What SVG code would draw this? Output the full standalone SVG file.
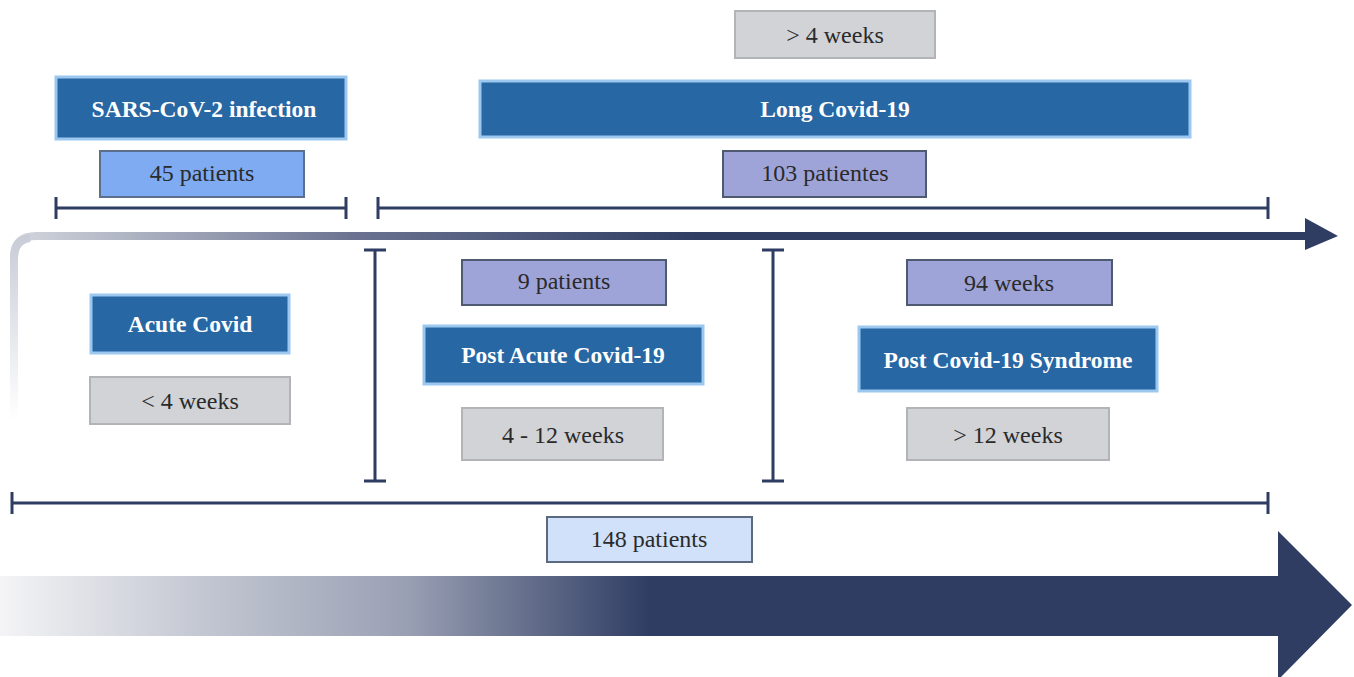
<svg xmlns="http://www.w3.org/2000/svg" width="1354" height="677" viewBox="0 0 1354 677">
<defs>
<linearGradient id="gBig" x1="0" y1="0" x2="1354" y2="0" gradientUnits="userSpaceOnUse">
<stop offset="0" stop-color="#f4f4f6"/>
<stop offset="0.15" stop-color="#c3c7d2"/>
<stop offset="0.3" stop-color="#9aa0b4"/>
<stop offset="0.48" stop-color="#2f3d63"/>
<stop offset="1" stop-color="#2f3d63"/>
</linearGradient>
<linearGradient id="gTop" x1="10" y1="0" x2="700" y2="0" gradientUnits="userSpaceOnUse">
<stop offset="0" stop-color="#d4d7de"/>
<stop offset="0.5" stop-color="#6a7290"/>
<stop offset="1" stop-color="#2f3d63"/>
</linearGradient>
<linearGradient id="gLeft" x1="0" y1="420" x2="0" y2="236" gradientUnits="userSpaceOnUse">
<stop offset="0" stop-color="#ffffff"/>
<stop offset="1" stop-color="#c8ccd6"/>
</linearGradient>
<style>
.dark{fill:#2767a3;stroke:#9cc8f0;stroke-width:3}
.gray{fill:#d1d3d7;stroke:#b3b4b8;stroke-width:2}
.lav{fill:#9fa4d8;stroke:#4d5a70;stroke-width:2}
.lb{fill:#7eabf2;stroke:#5b6f8c;stroke-width:2}
.pale{fill:#d0e1f9;stroke:#5b6a80;stroke-width:2}
.wt{font-family:"Liberation Serif",serif;font-size:23.5px;font-weight:bold;fill:#ffffff;text-anchor:middle;dominant-baseline:central}
.bt{font-family:"Liberation Serif",serif;font-size:24px;fill:#2a2a2a;text-anchor:middle;dominant-baseline:central}
.br{stroke:#2f3d63;stroke-width:3;fill:none}
</style>
</defs>
<rect width="1354" height="677" fill="#ffffff"/>
<g id="connectors">
<path d="M14,420 V258 Q14,236 36,236 H1310" stroke="url(#gTop)" stroke-width="8" fill="none"/>
<path d="M14,420 V258 Q14,240 30,238" stroke="url(#gLeft)" stroke-width="8" fill="none"/>
<polygon points="1305,218 1338,236 1305,250" fill="#2f3d63"/>
<path d="M0,576 H1278 V531 L1352,605 L1278,680 V636 H0 Z" fill="url(#gBig)"/>
<path class="br" d="M56,208 H346 M56,197 V219 M346,197 V219"/>
<path class="br" d="M378,208 H1268 M378,197 V219 M1268,197 V219"/>
<path class="br" d="M375,250 V481 M364,250 H386 M364,481 H386"/>
<path class="br" d="M773,250 V481 M762,250 H784 M762,481 H784"/>
<path class="br" d="M12,503 H1268 M12,492 V514 M1268,492 V514"/>
</g>
<g id="n-weeks4"><rect class="gray" x="735" y="11" width="200" height="47"/><text class="bt" x="835" y="35">&gt; 4 weeks</text></g>
<g id="n-sars"><rect class="dark" x="56" y="77" width="290" height="62"/><text class="wt" x="204" y="109">SARS-CoV-2 infection</text></g>
<g id="n-long"><rect class="dark" x="480" y="81" width="710" height="56"/><text class="wt" x="835" y="109">Long Covid-19</text></g>
<g id="n-45"><rect class="lb" x="100" y="151" width="204" height="46"/><text class="bt" x="202" y="173">45 patients</text></g>
<g id="n-103"><rect class="lav" x="723" y="151" width="203" height="46"/><text class="bt" x="825" y="173">103 patientes</text></g>
<g id="n-acute"><rect class="dark" x="91" y="295" width="198" height="58"/><text class="wt" x="190" y="324">Acute Covid</text></g>
<g id="n-lt4"><rect class="gray" x="90" y="377" width="200" height="47"/><text class="bt" x="190" y="401">&lt; 4 weeks</text></g>
<g id="n-9"><rect class="lav" x="462" y="260" width="204" height="45"/><text class="bt" x="564" y="281">9 patients</text></g>
<g id="n-postacute"><rect class="dark" x="424" y="326" width="279" height="58"/><text class="wt" x="563" y="355">Post Acute Covid-19</text></g>
<g id="n-412"><rect class="gray" x="462" y="408" width="201" height="52"/><text class="bt" x="563" y="435">4 - 12 weeks</text></g>
<g id="n-94"><rect class="lav" x="907" y="260" width="205" height="45"/><text class="bt" x="1009" y="283">94 weeks</text></g>
<g id="n-pcs"><rect class="dark" x="859" y="327" width="298" height="64"/><text class="wt" x="1008" y="360">Post Covid-19 Syndrome</text></g>
<g id="n-gt12"><rect class="gray" x="907" y="408" width="202" height="52"/><text class="bt" x="1008" y="435">&gt; 12 weeks</text></g>
<g id="n-148"><rect class="pale" x="547" y="517" width="205" height="45"/><text class="bt" x="649" y="539">148 patients</text></g>
</svg>
